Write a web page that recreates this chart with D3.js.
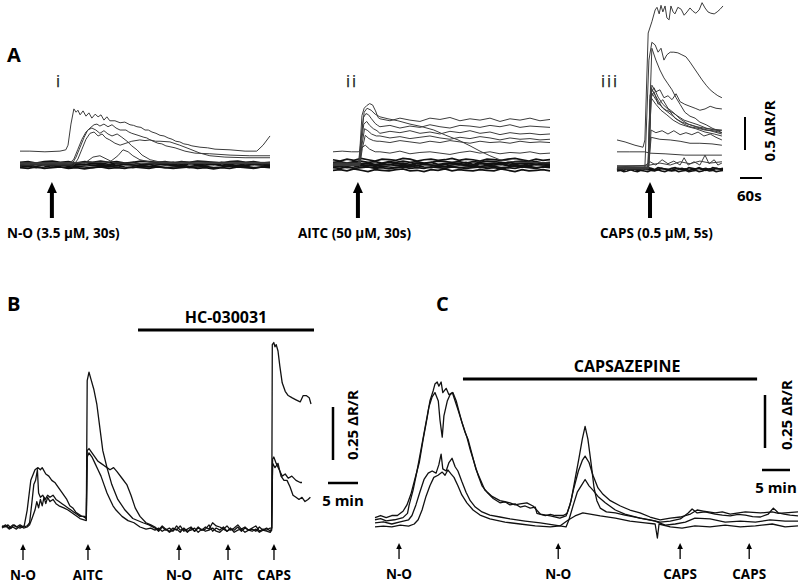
<!DOCTYPE html>
<html><head><meta charset="utf-8">
<script src="https://cdn.jsdelivr.net/npm/d3@7"></script>
<style>body{margin:0;background:#fff}svg{display:block}text{font-family:"Open Sans",sans-serif}</style>
</head><body>
<svg id="c" width="800" height="584"></svg>
<script>
// ---------------- DATA ----------------
function seg(t0, dt, vals){ return vals.map((v,i)=>[t0+i*dt, v]); }

// Panel A : baseline traces (hundredths of ΔR/R), uniformly sampled across each record
const bandTraces = [
 [2,3,1,4,2,3,1,2,4,2,3,1,3,2,4,1,2,3,2,4,1,3,2,3,1,4,2,3,2,1,3,2],
 [-1,0,-2,1,-1,0,-2,0,1,-1,0,-2,-1,1,0,-1,-2,0,1,-1,0,-2,-1,0,1,-1,-2,0,-1,1,0,-1],
 [4,5,3,5,6,4,5,3,5,4,6,4,5,3,4,6,5,4,5,3,5,4,6,5,4,3,5,6,4,5,3,4],
 [-3,-2,-4,-3,-1,-3,-4,-2,-3,-4,-2,-3,-1,-3,-4,-2,-3,-2,-4,-3,-2,-4,-3,-2,-4,-3,-1,-3,-2,-4,-3,-2],
 [1,-1,2,0,1,2,-1,1,0,2,1,-1,2,1,0,-1,1,2,0,1,-1,2,1,0,2,0,1,-1,2,1,0,1],
 [-4,-5,-3,-5,-4,-3,-5,-4,-6,-4,-3,-5,-4,-5,-3,-4,-5,-3,-4,-5,-4,-3,-5,-4,-6,-4,-5,-3,-4,-5,-3,-4],
 [8,6,9,7,10,8,6,9,8,7,10,9,6,8,9,7,8,10,7,9,8,6,9,8,7,9,10,8,6,9,7,8],
 [-8,-7,-9,-6,-8,-10,-7,-8,-9,-7,-6,-9,-8,-10,-7,-8,-6,-9,-7,-8,-9,-7,-8,-9,-6,-8,-10,-7,-9,-8,-7,-9]
];

// Panel A(i) N-O responders: [time s, ΔR/R]
const Ai_traces = [
 [[0,0.21],[27,0.21],[68,0.20],[109,0.21],[125,0.23],[131,0.30],[139,0.62],[147,0.85],[153,0.80],[158,0.83],[164,0.76],[172,0.82],[180,0.74],[188,0.79],[196,0.71],[205,0.77],[213,0.73],[221,0.76],[229,0.68],[237,0.73],[245,0.67],[259,0.67],[273,0.64],[286,0.65],[300,0.61],[310,0.60],[319,0.58],[330,0.57],[341,0.53],[350,0.53],[360,0.50],[371,0.48],[382,0.45],[393,0.44],[404,0.41],[415,0.39],[425,0.36],[436,0.35],[447,0.32],[458,0.31],[469,0.29],[491,0.27],[512,0.26],[532,0.24],[573,0.23],[614,0.21],[646,0.21],[663,0.30],[682,0.44]],
 [[0,0.03],[136,0.03],[147,0.09],[158,0.24],[169,0.39],[180,0.50],[191,0.56],[202,0.61],[210,0.62],[218,0.59],[229,0.62],[240,0.58],[251,0.61],[262,0.56],[273,0.53],[289,0.53],[297,0.50],[305,0.48],[322,0.45],[338,0.42],[346,0.41],[355,0.38],[376,0.33],[387,0.32],[398,0.29],[423,0.26],[450,0.21],[477,0.18],[518,0.17],[573,0.15],[627,0.14],[682,0.14]],
 [[0,0.015],[142,0.015],[153,0.12],[164,0.27],[175,0.42],[185,0.53],[196,0.56],[207,0.53],[218,0.48],[229,0.52],[240,0.47],[251,0.44],[265,0.47],[278,0.42],[292,0.36],[305,0.29],[319,0.23],[333,0.15],[355,0.08],[382,0.045],[423,0.03],[682,0.03]],
 [[0,0],[147,0],[158,0.09],[169,0.24],[180,0.39],[191,0.48],[202,0.50],[213,0.44],[224,0.47],[234,0.41],[245,0.38],[259,0.33],[273,0.30],[289,0.33],[305,0.36],[327,0.38],[341,0.37],[355,0.38],[370,0.36],[382,0.36],[409,0.35],[436,0.30],[464,0.24],[491,0.18],[518,0.14],[559,0.12],[614,0.11],[682,0.11]],
 [[0,0.03],[245,0.045],[267,0.14],[281,0.23],[295,0.20],[308,0.14],[327,0.08],[355,0.045],[682,0.04]],
 [[0,0.02],[177,0.03],[199,0.12],[218,0.14],[240,0.08],[259,0.03],[682,0.02]]
];

// Panel A(ii) AITC responders: [time s, ΔR/R]
const Aii_plateaus = [
 [0.70,0.67,0.71,0.68,0.66,0.71,0.69,0.72,0.67,0.70,0.68,0.71,0.66,0.70,0.68,0.71,0.67,0.69],
 [0.58,0.60,0.56,0.59,0.57,0.61,0.58,0.56,0.60,0.59,0.57,0.60,0.58,0.61,0.57,0.59,0.58,0.57],
 [0.48,0.51,0.49,0.52,0.48,0.50,0.47,0.51,0.49,0.52,0.48,0.50,0.46,0.49,0.47,0.48,0.46,0.47],
 [0.44,0.41,0.43,0.40,0.42,0.44,0.41,0.39,0.42,0.40,0.43,0.41,0.38,0.41,0.39,0.40,0.38,0.39],
 [0.36,0.34,0.37,0.35,0.33,0.36,0.34,0.37,0.35,0.33,0.36,0.34,0.35,0.33,0.36,0.34,0.35,0.34],
 [0.20,0.18,0.21,0.17,0.19,0.20,0.18,0.16,0.19,0.21,0.18,0.20,0.17,0.19,0.18,0.20,0.17,0.18]
];
const Aii_onsets = [
 [[0,0.02],[70,0.02],[74,0.3],[79,0.75],[85,0.86],[92,0.90],[100,0.93],[108,0.91],[116,0.82],[123,0.72]],
 [[0,0.01],[72,0.01],[77,0.4],[83,0.72],[90,0.78],[97,0.76],[105,0.70],[115,0.63],[122,0.60]],
 [[0,-0.01],[73,-0.01],[78,0.35],[84,0.62],[92,0.66],[100,0.60],[110,0.55],[120,0.52]],
 [[0,0.0],[73,0],[79,0.3],[86,0.55],[95,0.52],[105,0.47],[118,0.44]],
 [[0,0.03],[74,0.03],[80,0.25],[88,0.45],[98,0.40],[110,0.37],[120,0.36]],
 [[0,0.2],[25,0.21],[50,0.2],[70,0.2],[78,0.26],[88,0.30],[100,0.24],[115,0.2]]
];
const Aii_decline = [[0,0],[70,0],[76,0.38],[85,0.80],[93,0.86],[104,0.83],[115,0.77],[128,0.73],[150,0.70],[177,0.67],[210,0.62],[243,0.58],[275,0.53],[308,0.45],[341,0.38],[374,0.29],[401,0.21],[428,0.14],[455,0.08],[496,0.045],[592,0.03]];

// Panel A(iii) capsaicin responders: [time s, ΔR/R]
const Aiii_traces = [
 [[0,0.44],[22,0.41],[49,0.36],[71,0.33],[76,0.44],[85,2.06],[95,2.23],[104,2.41],[109,2.45],[115,2.35],[120,2.48],[125,2.38],[131,2.47],[136,2.29],[142,2.26],[147,2.47],[153,2.38],[158,2.35],[166,2.45],[175,2.42],[183,2.33],[191,2.38],[199,2.44],[207,2.39],[215,2.36],[224,2.41],[232,2.52],[240,2.44],[248,2.38],[256,2.36],[265,2.35],[273,2.38],[281,2.42],[289,2.47]],
 [[0,0.02],[76,0.02],[87,1.65],[95,1.92],[104,1.88],[112,1.77],[120,1.83],[128,1.65],[136,1.73],[145,1.77],[155,1.77],[166,1.76],[177,1.73],[188,1.70],[199,1.62],[210,1.53],[221,1.44],[232,1.35],[243,1.27],[254,1.20],[265,1.15],[275,1.11],[286,1.08]],
 [[0,0.01],[84,0.01],[95,1.83],[106,1.65],[117,1.50],[128,1.38],[139,1.29],[150,1.20],[161,1.08],[172,0.98],[185,0.86],[199,0.80],[213,0.77],[226,0.71],[243,0.67],[259,0.62],[275,0.58],[286,0.55]],
 [[0,0.03],[85,0.03],[95,1.27],[106,1.17],[117,1.20],[128,1.08],[139,1.11],[150,1.05],[161,1.14],[172,1.02],[185,0.98],[199,0.95],[213,0.92],[226,0.89],[240,0.91],[254,0.95],[270,0.92],[286,0.91]],
 [[0,0.0],[85,0.0],[93,1.23],[104,1.12],[114,1.02],[125,0.92],[139,0.86],[153,0.80],[166,0.74],[183,0.68],[199,0.64],[218,0.62],[240,0.59],[262,0.58],[286,0.55]],
 [[0,0.02],[86,0.02],[93,1.17],[106,1.05],[120,0.95],[134,0.89],[150,0.86],[166,0.80],[183,0.74],[199,0.71],[221,0.67],[243,0.62],[265,0.59],[286,0.58]],
 [[0,0.01],[86,0.01],[93,1.08],[106,0.98],[120,0.89],[136,0.82],[153,0.74],[172,0.68],[194,0.64],[215,0.61],[240,0.56],[265,0.53],[286,0.50]],
 [[0,0.03],[86,0.03],[93,0.59],[106,0.55],[123,0.58],[139,0.53],[155,0.58],[172,0.52],[188,0.55],[204,0.52],[221,0.56],[237,0.50],[254,0.53],[270,0.48],[286,0.44]],
 [[0,0.02],[86,0.02],[93,0.48],[117,0.45],[145,0.44],[172,0.42],[199,0.39],[226,0.39],[259,0.38],[286,0.36]],
 [[0,0.26],[35,0.26],[76,0.26],[90,0.24],[131,0.23],[185,0.21],[240,0.21],[286,0.21]],
 [[0,0.05],[76,0.05],[90,0.11],[106,0.06],[123,0.14],[139,0.08],[155,0.12],[172,0.06],[183,0.17],[194,0.06],[210,0.11],[226,0.06],[240,0.21],[251,0.08],[265,0.14],[275,0.06],[286,0.09]],
 [[0,0.03],[90,0.06],[117,0.09],[145,0.06],[172,0.11],[199,0.08],[226,0.12],[254,0.09],[286,0.11]],
 [[0,0.02],[85,0.02],[90,1.12],[101,1.23],[112,1.09],[125,0.98],[142,0.89],[158,0.77],[177,0.71],[199,0.67],[226,0.62],[254,0.58],[286,0.53]],
 [[0,0.01],[85,0.01],[90,1.05],[101,1.17],[112,0.98],[125,1.05],[139,0.92],[155,0.85],[172,0.76],[194,0.68],[218,0.64],[248,0.61],[286,0.59]]
];

const A_stimuli = [
 {label:"N-O (3.5 µM, 30s)", t:87},
 {label:"AITC (50 µM, 30s)", t:68},
 {label:"CAPS (0.5 µM, 5s)", t:90}
];
const A_numerals = ["i","ii","iii"];

// Panel B (time min, ΔR/R)
const B1n = [-0.005,-0.02,0,-0.015,-0.005,-0.02,0.005,-0.015,-0.01,-0.025,-0.005,-0.02,0,-0.015,-0.01,0.01,-0.02,-0.005,-0.015,0,-0.02,-0.01,-0.015,0,-0.02,-0.005,-0.015,-0.01,-0.02,0,-0.015,-0.005,-0.02];
const B2n = [0,-0.015,0.005,-0.01,-0.02,-0.005,-0.015,0.005,-0.02,-0.01,0,-0.02,-0.005,-0.015,0,-0.01,0.02,0.005,0,-0.01,0.005,-0.015,-0.005,0.01,-0.01,0,-0.015,-0.005,0.005,-0.02,-0.01,-0.015,-0.005];
const B3n = [-0.015,-0.005,-0.02,-0.01,-0.025,-0.015,-0.01,-0.025,-0.005,-0.02,-0.015,-0.005,-0.025,-0.01,-0.02,-0.015,-0.005,-0.02,-0.025,-0.01,-0.02,-0.005,-0.025,-0.015,-0.01,-0.025,-0.015,-0.02,-0.01,-0.025,-0.015,-0.02,-0.025];
const B_traces = [
 [[0,0.005],[0.5,0],[1,0.01],[1.5,-0.005],[2,0.01],[2.5,0],[3,-0.005],[3.7,0.005],[4.2,0.08],[4.8,0.22],[5.5,0.27],[6,0.28],[6.4,0.27],[6.7,0.28],[7.3,0.25],[7.8,0.24],[8.3,0.22],[8.8,0.21],[9.3,0.19],[9.8,0.17],[10.3,0.15],[10.8,0.13],[11.3,0.10],[11.8,0.09],[12.3,0.07],[12.8,0.06],[13.3,0.05],[13.8,0.05],[14.05,0.04],[14.2,0.69],[14.5,0.73],[14.8,0.70],[15.3,0.65],[15.8,0.58],[16.3,0.47],[16.8,0.36],[17.5,0.28],[18.3,0.20],[19.3,0.13],[20.5,0.08],[21.8,0.04],[23.5,0.02],[24.5,0.01]]
   .concat(seg(25.5,0.6,B1n))
   .concat([[44.95,-0.005],[45.05,0.86],[45.3,0.87],[45.5,0.85],[45.7,0.86],[46,0.83],[46.3,0.76],[46.7,0.68],[47.2,0.64],[47.7,0.62],[48.3,0.61],[49,0.60],[49.7,0.59],[50.2,0.62],[50.7,0.62],[51.2,0.61],[51.5,0.58]]),
 [[0,0],[0.6,0.01],[1.2,-0.005],[1.8,0.01],[2.4,0],[3,0.01],[3.6,0],[4.2,0.005],[4.6,0.02],[5,0.12],[5.3,0.20],[5.6,0.22],[5.9,0.27],[6.1,0.16],[6.4,0.14],[6.8,0.15],[7.2,0.13],[7.6,0.15],[8,0.14],[8.5,0.15],[9,0.13],[9.5,0.12],[10,0.11],[10.5,0.1],[11,0.09],[11.5,0.08],[12,0.07],[12.5,0.06],[13,0.05],[13.5,0.05],[14.05,0.04],[14.2,0.36],[14.5,0.37],[15,0.35],[15.5,0.33],[16,0.31],[16.5,0.30],[17,0.29],[17.5,0.28],[18,0.27],[18.6,0.28],[19.2,0.26],[20,0.23],[20.8,0.20],[21.5,0.15],[22.2,0.09],[23,0.05],[24,0.02],[24.8,0.01]]
   .concat(seg(25.5,0.6,B2n))
   .concat([[44.95,-0.005],[45.1,0.32],[45.3,0.33],[45.7,0.30],[46.2,0.27],[46.7,0.24],[47.2,0.25],[47.7,0.23],[48.3,0.24],[49,0.22],[49.7,0.21],[50,0.21]]),
 [[0,-0.005],[0.6,0.005],[1.2,-0.01],[1.8,0],[2.4,-0.01],[3,0.005],[3.6,-0.005],[4.2,0],[4.6,0.01],[5,0.04],[5.5,0.08],[5.8,0.12],[6.1,0.09],[6.4,0.13],[6.7,0.10],[7,0.14],[7.3,0.11],[7.6,0.14],[8,0.12],[8.5,0.13],[9,0.11],[9.5,0.10],[10.3,0.09],[11,0.08],[12,0.06],[13,0.04],[14.05,0.03],[14.2,0.33],[14.5,0.35],[15,0.33],[15.5,0.30],[16,0.27],[16.5,0.24],[17,0.20],[17.5,0.16],[18,0.13],[18.5,0.10],[19,0.08],[20,0.05],[21,0.03],[22,0.02],[23,0],[24,-0.01],[24.8,-0.005]]
   .concat(seg(25.5,0.6,B3n))
   .concat([[44.95,-0.015],[45.1,0.30],[45.5,0.28],[46,0.30],[46.5,0.24],[47,0.22],[47.5,0.22],[48,0.19],[48.5,0.15],[49,0.14],[49.5,0.13],[50,0.14],[50.5,0.12],[51,0.13],[51.4,0.14]])
];
const B_stimuli = [{label:"N-O",t:3.5},{label:"AITC",t:14.33},{label:"N-O",t:29.5},{label:"AITC",t:37.67},{label:"CAPS",t:45.33}];
const B_antagonist = {label:"HC-030031", start:22.67, end:52};

// Panel C (time min, ΔR/R)
const C_traces = [
 [[0,0.03],[1,0.04],[2,0.03],[3,0.04],[4,0.04],[5,0.06],[5.7,0.09],[6.4,0.14],[7.1,0.21],[7.9,0.29],[8.6,0.40],[9.3,0.50],[9.8,0.58],[10.4,0.63],[10.7,0.66],[11.1,0.67],[11.4,0.65],[11.8,0.67],[12.1,0.62],[12.7,0.64],[13.2,0.61],[13.8,0.62],[14.3,0.58],[14.8,0.54],[15.4,0.49],[15.9,0.45],[16.4,0.41],[17,0.35],[17.7,0.29],[18.4,0.23],[19.1,0.18],[20,0.15],[21.1,0.12],[22.3,0.10],[23.2,0.105],[24.1,0.09],[25,0.095],[25.9,0.08],[26.8,0.085],[27.7,0.075],[28.6,0.08],[28.9,0.05],[30.4,0.04],[31.3,0.045],[32.1,0.04],[33.6,0.04],[34.3,0.05],[35,0.11],[35.7,0.21],[36.4,0.31],[37,0.40],[37.5,0.46],[38,0.40],[38.6,0.28],[39.1,0.17],[39.6,0.11],[40.2,0.075],[41.3,0.057],[42.9,0.052],[44.6,0.042],[46,0.035],[47.3,0.028],[49.1,0.019],[50.9,0.009],[52.7,0.014],[54.5,0.024],[55.9,0.052],[56.6,0.071],[57.5,0.052],[58.9,0.057],[60.7,0.047],[62,0.042],[63.4,0.038],[64.8,0.045],[66.1,0.042],[67.4,0.035],[68.8,0.033],[70.2,0.047],[71.1,0.075],[72,0.052],[73,0.047],[74.1,0.042],[75.5,0.038]],
 [[0,0.02],[1,0.025],[2,0.015],[3.5,0.02],[5,0.03],[5.8,0.05],[6.1,0.09],[6.8,0.16],[7.5,0.25],[8.2,0.35],[8.9,0.45],[9.6,0.55],[10.2,0.60],[10.7,0.62],[11.3,0.58],[11.6,0.49],[12,0.41],[12.3,0.51],[12.9,0.58],[13.4,0.61],[13.9,0.62],[14.5,0.58],[15,0.53],[15.5,0.48],[16.1,0.43],[16.6,0.40],[17.3,0.33],[18,0.26],[18.8,0.21],[19.6,0.16],[20.9,0.13],[22.3,0.11],[23.2,0.105],[24.1,0.10],[25,0.09],[25.9,0.095],[27.1,0.10],[28.2,0.085],[29.5,0.047],[31.3,0.038],[33,0.028],[34.1,0.038],[34.8,0.09],[35.5,0.17],[36.3,0.25],[37,0.30],[37.5,0.32],[38.2,0.29],[38.9,0.23],[39.8,0.17],[40.7,0.14],[42,0.11],[43.8,0.085],[45.5,0.066],[47.3,0.052],[49.1,0.033],[50.9,0.019],[52.7,0.028],[54.5,0.033],[56.3,0.047],[57.5,0.066],[58.6,0.061],[60.7,0.052],[62,0.057],[63.4,0.047],[66.1,0.057],[68.8,0.052],[70.9,0.057],[72,0.05],[73.2,0.052],[75.5,0.057]],
 [[0,0.005],[1.5,0.01],[3,0.0],[4.5,0.01],[6,0.02],[6.6,0.04],[7.3,0.09],[8,0.15],[8.75,0.21],[9.5,0.24],[10.2,0.25],[10.9,0.24],[11.4,0.28],[11.8,0.33],[12.1,0.26],[12.7,0.25],[13.2,0.29],[13.75,0.31],[14.3,0.27],[14.8,0.25],[15.5,0.20],[16.25,0.15],[17,0.11],[17.9,0.08],[19.1,0.057],[20.5,0.042],[22.3,0.033],[24.1,0.024],[26.8,0.014],[29.5,0.005],[32.1,-0.005],[34.1,-0.014],[34.6,0.019],[35.4,0.09],[36.1,0.15],[36.8,0.18],[37.5,0.21],[38.2,0.18],[38.9,0.16],[39.8,0.13],[41.1,0.10],[42.9,0.066],[44.6,0.047],[47.3,0.028],[50,0.014],[51.8,-0.005],[53.6,0],[55.4,0.009],[57.1,0.028],[59.8,0.024],[62.5,0.009],[65.2,0.014],[67.9,0.009],[70.5,0.019],[73.2,0.014],[75.5,0.014]],
 [[0,-0.014],[1.5,-0.01],[3,-0.014],[4.5,-0.005],[6,-0.01],[7,0],[7.7,0.02],[8.4,0.066],[9.1,0.13],[9.8,0.18],[10.5,0.22],[11.25,0.23],[12,0.245],[12.5,0.23],[13,0.255],[13.6,0.235],[14.1,0.22],[14.8,0.18],[15.5,0.137],[16.4,0.10],[17.5,0.066],[18.75,0.042],[20.5,0.024],[23.2,0.009],[25.9,0],[28.6,-0.009],[31.3,-0.014],[33,-0.009],[34.5,0.019],[35.7,0.038],[37.1,0.052],[38.4,0.047],[40.2,0.038],[42.9,0.028],[45.5,0.014],[48.2,0.005],[50,0],[50.4,-0.066],[50.7,0],[52.7,-0.014],[54.8,-0.019],[57.1,-0.009],[59.8,-0.014],[62.5,-0.005],[65.2,-0.014],[67.9,-0.009],[70.9,0],[73.2,-0.014],[75.5,-0.009]]
];
const C_stimuli = [{label:"N-O",t:4.29},{label:"N-O",t:32.7},{label:"CAPS",t:54.46},{label:"CAPS",t:66.79}];
const C_antagonist = {label:"CAPSAZEPINE", start:15.7, end:68.2};

// ---------------- DRAW ----------------
const svg = d3.select("#c");
const bold = "700";

// ---- Panel A
const aCfg = [
 {x0:20, x1:270, tMax:682, base:165, bands:[0,1,2,3,4,5], numX:56, labelX:7},
 {x0:333, x1:550, tMax:592, base:165, bands:[0,1,2,3,4,5,6,7], numX:346, labelX:298},
 {x0:617, x1:723, tMax:289, base:169, bands:[1,3,4], numX:601, labelX:600}
];
const aY = aCfg.map(c => d3.scaleLinear().domain([0,1]).range([c.base, c.base-66]));
const aX = aCfg.map(c => d3.scaleLinear().domain([0,c.tMax]).range([c.x0, c.x1]));

const aTraceSets = [
 Ai_traces,
 Aii_onsets.map((o,i)=> o.concat(seg(128, (592-128)/17, Aii_plateaus[i]))).concat([Aii_decline]),
 Aiii_traces
];

aCfg.forEach((c,k)=>{
  const x=aX[k], y=aY[k];
  const line = d3.line().x(d=>x(d[0])).y(d=>y(d[1]));
  const g = svg.append("g");
  c.bands.forEach(bi=>{
    const arr = bandTraces[bi];
    const dt = c.tMax/(arr.length-1);
    g.append("path").attr("d", line(arr.map((v,i)=>[i*dt, v/100])))
      .attr("fill","none").attr("stroke","#111").attr("stroke-width",1.7);
  });
  aTraceSets[k].forEach(tr=>{
    g.append("path").attr("d", line(tr)).attr("fill","none")
      .attr("stroke","#3c3c3c").attr("stroke-width",1).attr("stroke-linejoin","round");
  });
  svg.append("text").attr("x",c.numX).attr("y",87).attr("font-size",16)
    .attr("fill","#222").attr("stroke","#222").attr("stroke-width",0.25)
    .attr("letter-spacing",2).text(A_numerals[k]);
  const ax = x(A_stimuli[k].t);
  svg.append("rect").attr("x",ax-2).attr("y",191).attr("width",4).attr("height",27).attr("fill","#000");
  svg.append("path").attr("d",`M${ax-5},193 L${ax},182 L${ax+5},193 Z`).attr("fill","#000");
  svg.append("text").attr("x",c.labelX).attr("y",238).attr("font-size",13.5)
    .attr("font-weight",bold).text(A_stimuli[k].label);
});
svg.append("text").attr("x",7).attr("y",62).attr("font-size",20).attr("font-weight",bold).text("A");
{
  const y = aY[0];
  const h = y(0)-y(0.5);
  svg.append("line").attr("x1",745).attr("x2",745).attr("y1",150).attr("y2",150-h).attr("stroke","#000").attr("stroke-width",2);
  svg.append("text").attr("transform","translate(775,131) rotate(-90)").attr("text-anchor","middle")
    .attr("font-size",15).attr("font-weight",bold).text("0.5 ΔR/R");
  const w = aX[0](60)-aX[0](0);
  svg.append("line").attr("x1",740).attr("x2",740+w).attr("y1",178).attr("y2",178).attr("stroke","#000").attr("stroke-width",2);
  svg.append("text").attr("x",737).attr("y",201).attr("font-size",15).attr("font-weight",bold).text("60s");
}

// ---- Panels B and C
function drawRecord(opt){
  const x = d3.scaleLinear().domain(opt.xDom).range(opt.xRange);
  const y = d3.scaleLinear().domain([0,1]).range([opt.base, opt.base-212]);
  const line = d3.line().x(d=>x(d[0])).y(d=>y(d[1]));
  opt.traces.forEach(tr=>{
    svg.append("path").attr("d",line(tr)).attr("fill","none").attr("stroke","#111")
      .attr("stroke-width",1.3).attr("stroke-linejoin","round");
  });
  svg.append("line").attr("x1",x(opt.ant.start)).attr("x2",x(opt.ant.end))
    .attr("y1",opt.barY).attr("y2",opt.barY).attr("stroke","#000").attr("stroke-width",3);
  svg.append("text").attr("x",(x(opt.ant.start)+x(opt.ant.end))/2 + opt.antDx).attr("y",opt.barY-7)
    .attr("text-anchor","middle").attr("font-size",16).attr("font-weight",bold).text(opt.ant.label);
  opt.stim.forEach(s=>{
    const sx = x(s.t);
    svg.append("line").attr("x1",sx).attr("x2",sx).attr("y1",opt.arrowTop+5).attr("y2",opt.arrowTop+16)
      .attr("stroke","#000").attr("stroke-width",1.3);
    svg.append("path").attr("d",`M${sx-2.8},${opt.arrowTop+6} L${sx},${opt.arrowTop} L${sx+2.8},${opt.arrowTop+6} Z`).attr("fill","#000");
    svg.append("text").attr("x",sx).attr("y",opt.labelY).attr("text-anchor","middle")
      .attr("font-size",13.5).attr("font-weight",bold).text(s.label);
  });
  const h = y(0)-y(0.25);
  svg.append("line").attr("x1",opt.sv[0]).attr("x2",opt.sv[0]).attr("y1",opt.sv[1]).attr("y2",opt.sv[1]-h)
    .attr("stroke","#000").attr("stroke-width",2.5);
  svg.append("text").attr("transform",`translate(${opt.svText[0]},${opt.svText[1]}) rotate(-90)`)
    .attr("text-anchor","middle").attr("font-size",15).attr("font-weight",bold).text("0.25 ΔR/R");
  const w = x(5)-x(0);
  svg.append("line").attr("x1",opt.sh[0]).attr("x2",opt.sh[0]+w).attr("y1",opt.sh[1]).attr("y2",opt.sh[1])
    .attr("stroke","#000").attr("stroke-width",2.5);
  svg.append("text").attr("x",opt.sh[0]+w/2).attr("y",opt.sh[1]+23).attr("text-anchor","middle")
    .attr("font-size",15).attr("font-weight",bold).text("5 min");
  svg.append("text").attr("x",opt.letter[0]).attr("y",opt.letter[1]).attr("font-size",20)
    .attr("font-weight",bold).text(opt.letterText);
}

drawRecord({traces:B_traces, xDom:[0,51.5], xRange:[2,311], base:527, ant:B_antagonist, barY:330, antDx:0,
  stim:B_stimuli, arrowTop:544, labelY:580, sv:[333,460], svText:[358,425], sh:[328,483], letter:[7,311], letterText:"B"});
drawRecord({traces:C_traces, xDom:[0,75.5], xRange:[375,798], base:524, ant:C_antagonist, barY:379, antDx:17,
  stim:C_stimuli, arrowTop:543, labelY:579, sv:[765,448], svText:[792,415], sh:[762,470], letter:[436,311], letterText:"C"});
</script>
</body></html>
